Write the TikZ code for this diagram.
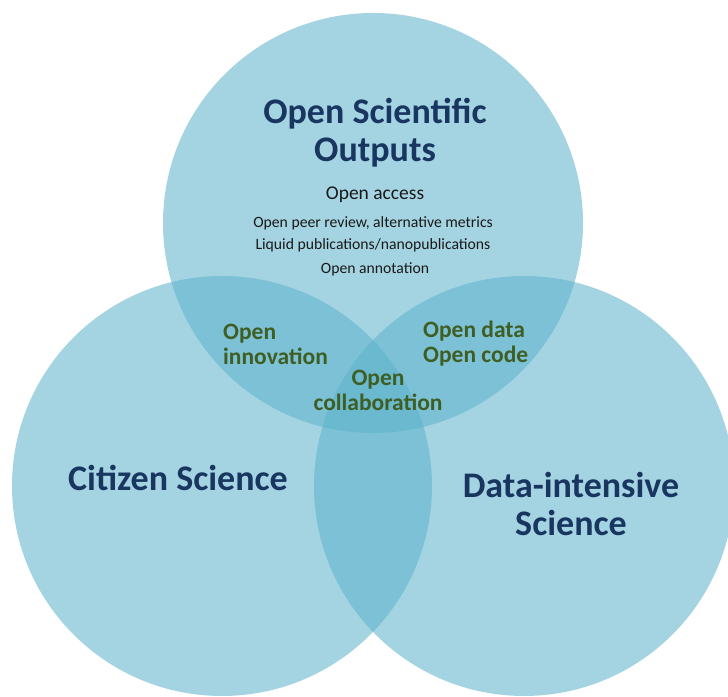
\documentclass[tikz,border=0pt]{standalone}
\usepackage{fontspec}
\setmainfont{Carlito}
\definecolor{circ}{RGB}{93,178,203}
\definecolor{navy}{RGB}{24,54,96}
\definecolor{olive}{RGB}{62,94,36}
\definecolor{ink}{RGB}{25,25,25}
\begin{document}
\begin{tikzpicture}[x=1pt,y=1pt,
  venn/.style={fill=circ,fill opacity=0.56,draw=none},
  bigtitle/.style={text=navy,font=\fontsize{36}{38}\selectfont\bfseries,align=center,inner sep=0pt},
  itemtxt/.style={text=ink,inner sep=0pt},
  overlap/.style={text=olive,font=\fontsize{23.5}{25}\selectfont\bfseries,inner sep=0pt}]
\useasboundingbox (0,0) rectangle (728,696);
\clip (0,0) rectangle (728,696);
% circles
\fill[venn] (373,473) circle (210);
\fill[venn] (222,210) circle (210);
\fill[venn] (524,210) circle (210);
% titles
\node[bigtitle] (tout) at (375,563) {Open Scientific\\Outputs};
\node[bigtitle] (tcit) at (178,218) {Citizen Science};
\node[bigtitle] (tdat) at (571,192) {Data-intensive\\Science};
% items
\node[itemtxt,font=\fontsize{19.5}{21}\selectfont] (oa) at (375,501) {Open access};
\node[itemtxt,font=\fontsize{15.7}{17}\selectfont] (opr) at (373,473) {Open peer review, alternative metrics};
\node[itemtxt,font=\fontsize{15.7}{17}\selectfont] (lq) at (373,451) {Liquid publications/nanopublications};
\node[itemtxt,font=\fontsize{15.7}{17}\selectfont] (oan) at (375,427) {Open annotation};
% overlaps
\node[overlap,align=left,anchor=west] (inn) at (223,352) {Open\\innovation};
\node[overlap,align=left,anchor=west] (dat) at (423,352) {Open data\\Open code};
\node[overlap,align=center] (col) at (378,306) {Open\\collaboration};
\end{tikzpicture}
\end{document}
